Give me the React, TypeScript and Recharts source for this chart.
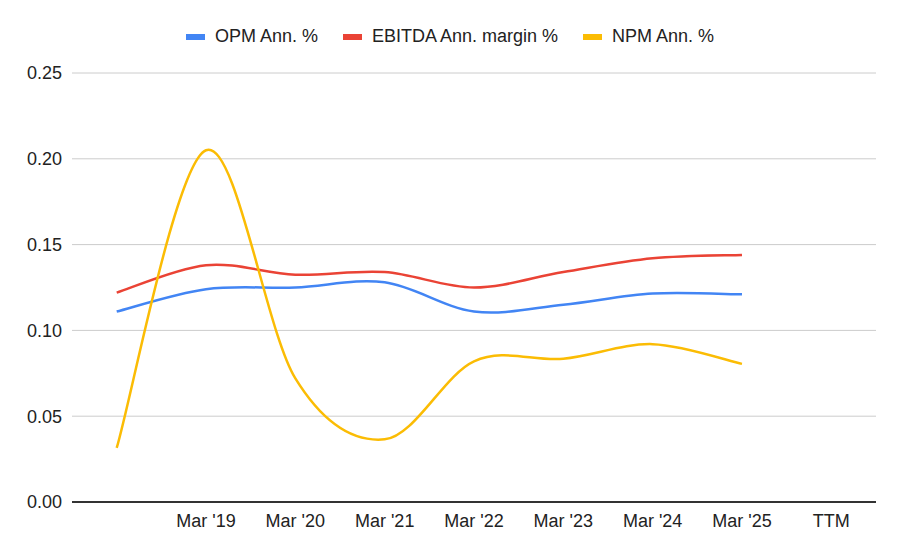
import React from 'react'
import { LineChart, Line, XAxis, YAxis, CartesianGrid, Legend } from 'recharts'

const categories = ['', "Mar '19", "Mar '20", "Mar '21", "Mar '22", "Mar '23", "Mar '24", "Mar '25", 'TTM']
const opm = [0.111, 0.124, 0.125, 0.128, 0.111, 0.115, 0.1215, 0.121, null]
const ebitda = [0.122, 0.138, 0.1325, 0.134, 0.125, 0.134, 0.142, 0.144, null]
const npm = [0.0315, 0.205, 0.072, 0.0365, 0.082, 0.0835, 0.092, 0.0805, null]
const yTicks = [0, 0.05, 0.1, 0.15, 0.2, 0.25]
const seriesOrder = ['opm', 'ebitda', 'npm']

const data = categories.map((label, i) => ({
  label,
  opm: opm[i],
  ebitda: ebitda[i],
  npm: npm[i],
}))

const FONT = '"Liberation Sans", Arial, sans-serif'

// smooth line like the spreadsheet one (catmull-rom through every point)
function smoothCurve(context: any) {
  let pts: number[][] = []
  return {
    areaStart() {},
    areaEnd() {},
    lineStart() {
      pts = []
    },
    point(x: number, y: number) {
      pts.push([+x, +y])
    },
    lineEnd() {
      if (!pts.length) return
      context.moveTo(pts[0][0], pts[0][1])
      for (let i = 0; i < pts.length - 1; i++) {
        const p0 = pts[i - 1] || pts[i]
        const p1 = pts[i]
        const p2 = pts[i + 1]
        const p3 = pts[i + 2] || p2
        context.bezierCurveTo(
          p1[0] + (p2[0] - p0[0]) / 6,
          p1[1] + (p2[1] - p0[1]) / 6,
          p2[0] - (p3[0] - p1[0]) / 6,
          p2[1] - (p3[1] - p1[1]) / 6,
          p2[0],
          p2[1]
        )
      }
    },
  }
}

function renderLegend(props: any) {
  const items = [...(props.payload || [])].sort(
    (a: any, b: any) => seriesOrder.indexOf(a.dataKey) - seriesOrder.indexOf(b.dataKey)
  )
  return (
    <div
      style={{
        height: 73,
        display: 'flex',
        justifyContent: 'center',
        alignItems: 'center',
        gap: 25,
        fontFamily: FONT,
        fontSize: 18,
        color: '#222',
      }}
    >
      {items.map((it: any) => (
        <div key={it.value} style={{ display: 'flex', alignItems: 'center' }}>
          <span style={{ width: 19, height: 6, background: it.color, marginRight: 10, display: 'inline-block' }} />
          <span>{it.value}</span>
        </div>
      ))}
    </div>
  )
}

export default function App() {
  return (
    <div style={{ position: 'absolute', left: 0, top: 0 }}>
      <LineChart
        width={900}
        height={557}
        data={data}
        margin={{ top: 0, right: 24, left: 0, bottom: 25 }}
        style={{ fontFamily: FONT }}
      >
        <CartesianGrid vertical={false} stroke="#cccccc" />
        <XAxis
          dataKey="label"
          interval={0}
          padding={{ left: 44.7, right: 44.7 }}
          tickLine={false}
          axisLine={{ stroke: '#333333', strokeWidth: 2 }}
          tickMargin={6}
          tick={{ fontSize: 18, fill: '#222' }}
          height={30}
        />
        <YAxis
          width={72}
          domain={[0, 0.25]}
          ticks={yTicks}
          tickFormatter={(v) => v.toFixed(2)}
          axisLine={false}
          tickLine={false}
          tickMargin={4}
          tick={{ fontSize: 18, fill: '#222' }}
        />
        <Legend verticalAlign="top" align="center" wrapperStyle={{ left: 0, top: 0, width: 900 }} content={renderLegend} />
        <Line
          dataKey="opm"
          name="OPM Ann. %"
          type={smoothCurve as any}
          stroke="#4285F4"
          strokeWidth={2.5}
          dot={false}
          isAnimationActive={false}
        />
        <Line
          dataKey="ebitda"
          name="EBITDA Ann. margin %"
          type={smoothCurve as any}
          stroke="#EA4335"
          strokeWidth={2.5}
          dot={false}
          isAnimationActive={false}
        />
        <Line
          dataKey="npm"
          name="NPM Ann. %"
          type={smoothCurve as any}
          stroke="#FBBC04"
          strokeWidth={2.5}
          dot={false}
          isAnimationActive={false}
        />
      </LineChart>
    </div>
  )
}
